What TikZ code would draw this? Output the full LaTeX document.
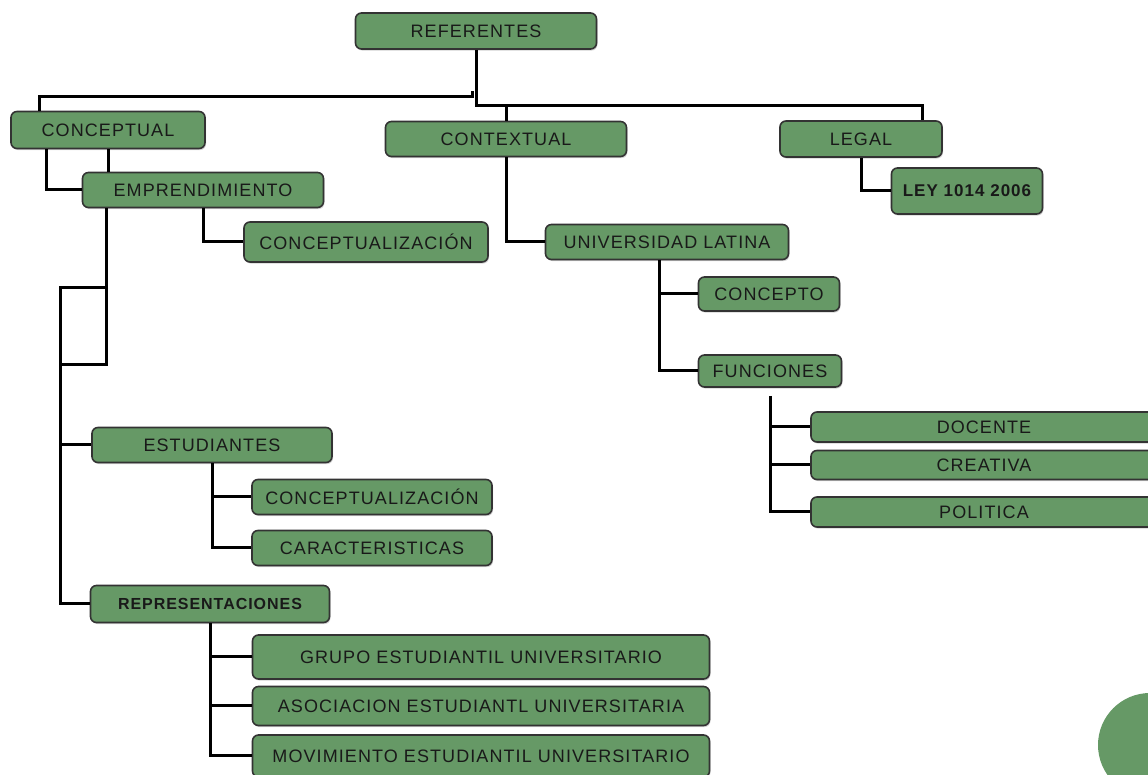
\documentclass[tikz,border=0pt]{standalone}
\usepackage{fontspec}
\setmainfont{Liberation Sans}[LetterSpace=6]
\usetikzlibrary{shadows}
\definecolor{boxgreen}{RGB}{102,153,102}
\tikzset{
  box/.style={draw=black!80, line width=0.8pt, fill=boxgreen, rounded corners=3pt, inner sep=1pt,
    font=\fontsize{9}{10}\selectfont, text=black!90,
    drop shadow={shadow xshift=0.5pt, shadow yshift=-0.8pt, opacity=0.35}},
  link/.style={line width=1.5pt, black}
}
\begin{document}
\begin{tikzpicture}[x=0.5pt,y=-0.5pt]
            \useasboundingbox (0,0) rectangle (1148,775);
            \clip (0,0) rectangle (1148,775);
            \node [box, minimum width=120.5pt, minimum height=18pt] (ref) at (476,31) {REFERENTES};
            \node [box, minimum width=97pt, minimum height=18.5pt] (conc) at (108,130) {CONCEPTUAL};
            \node [box, minimum width=120.5pt, minimum height=17.5pt] (cont) at (506,139) {CONTEXTUAL};
            \node [box, minimum width=81pt, minimum height=18pt] (legal) at (861,139) {LEGAL};
            \node [box, minimum width=75.5pt, minimum height=23pt, font=\fontsize{8.5}{10}\selectfont\bfseries] (ley) at (967,191) {LEY 1014 2006};
            \node [box, minimum width=120.5pt, minimum height=17.5pt] (empr) at (203,190) {EMPRENDIMIENTO};
            \node [box, minimum width=122pt, minimum height=20pt] (concz) at (366,242) {CONCEPTUALIZACIÓN};
            \node [box, minimum width=121.5pt, minimum height=17.5pt] (univ) at (667,242) {UNIVERSIDAD LATINA};
            \node [box, minimum width=70.5pt, minimum height=17pt] (concepto) at (769,294) {CONCEPTO};
            \node [box, minimum width=71.5pt, minimum height=16pt] (func) at (770,371) {FUNCIONES};
            \node [box, minimum width=173pt, minimum height=15pt] (doc) at (984,427) {DOCENTE};
            \node [box, minimum width=173pt, minimum height=14.5pt] (crea) at (984,465) {CREATIVA};
            \node [box, minimum width=173pt, minimum height=15pt] (pol) at (984,512) {POLITICA};
            \node [box, minimum width=120pt, minimum height=17.5pt] (estud) at (212,445) {ESTUDIANTES};
            \node [box, minimum width=120pt, minimum height=17.5pt] (conczb) at (372,497) {CONCEPTUALIZACIÓN};
            \node [box, minimum width=120pt, minimum height=17.5pt] (carac) at (372,548) {CARACTERISTICAS};
            \node [box, minimum width=119.5pt, minimum height=18.5pt, font=\fontsize{8}{10}\selectfont\bfseries] (repr) at (210,604) {REPRESENTACIONES};
            \node [box, minimum width=228.5pt, minimum height=22pt] (grupo) at (481,657) {GRUPO ESTUDIANTIL UNIVERSITARIO};
            \node [box, minimum width=228.5pt, minimum height=19.5pt] (asoc) at (481,706) {ASOCIACION ESTUDIANTL UNIVERSITARIA};
            \node [box, minimum width=228.5pt, minimum height=21pt] (movi) at (481,756) {MOVIMIENTO ESTUDIANTIL UNIVERSITARIO};
            \coordinate (busr) at (476,106); \coordinate (busl) at (472,97);
            \coordinate (ktop) at (60,288); \coordinate (kbot) at (60,365);
            \draw [link](ref.south)--(busr)-|([xshift=-10pt]legal.north east);
            \draw [link](busr-|cont.north)--(cont.north);
            \draw [link](busl)++(0,-6)--(busl)-|([xshift=14.5pt]conc.north west);
            \draw [link]([xshift=18pt]conc.south west)|-(empr.west);
            \draw [link](conc.south)--(conc.south|-empr.north);
            \draw [link](empr.south)|-(concz.west);
            \draw [link]([xshift=12.5pt]empr.south west)|-(kbot);
            \draw [link](ktop)++(48,0)--(ktop)|-(repr.west);
            \draw [link](ktop|-estud.west)--(estud.west);
            \draw [link](estud.south)|-(conczb.west) (estud.south)|-(carac.west);
            \draw [link](repr.south)|-(grupo.west) (repr.south)|-(asoc.west) (repr.south)|-(movi.west);
            \draw [link](cont.south)|-(univ.west);
            \draw [link]([xshift=-4pt]univ.south)|-(concepto.west) ([xshift=-4pt]univ.south)|-(func.west);
            \draw [link]([yshift=-4pt]func.south)|-(doc.west) ([yshift=-4pt]func.south)|-(crea.west) ([yshift=-4pt]func.south)|-(pol.west);
            \draw [link](legal.south)|-(ley.west);
            \fill [boxgreen](1150,745) circle (26pt);
        \end{tikzpicture}
\end{document}
